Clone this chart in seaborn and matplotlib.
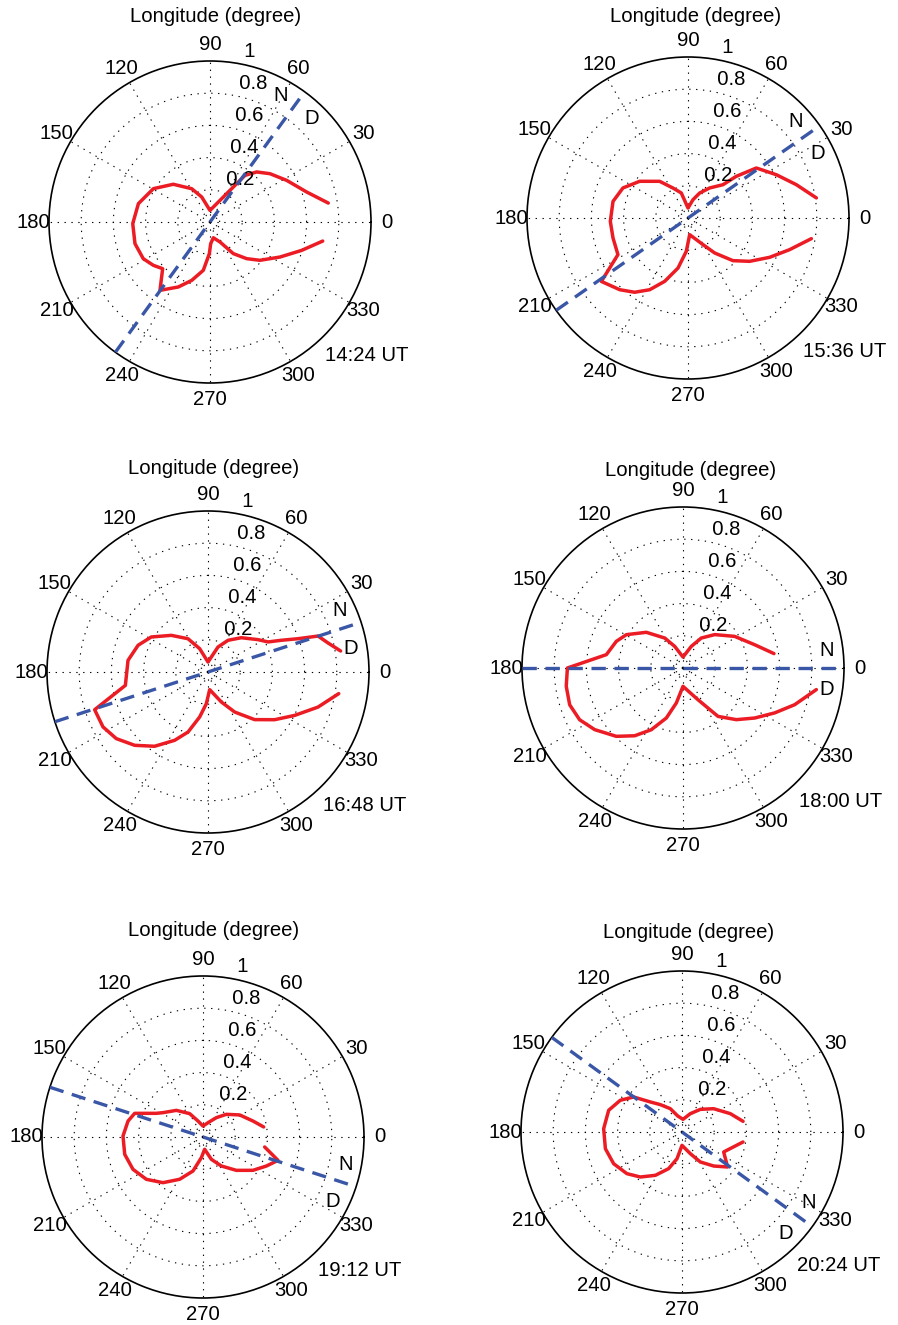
import numpy as np
import pandas as pd
import matplotlib
matplotlib.use("Agg")
import matplotlib.pyplot as plt
import seaborn as sns

sns.set_style("white")
plt.rcParams['font.family'] = ['Liberation Sans', 'DejaVu Sans']
plt.rcParams['text.color'] = 'black'

# ---------------- data (longitude in degrees, normalised value) ----------------
p1_theta = [9.1, 17.2, 28.5, 38.9, 47.0, 53.1, 57.7, 65.2, 90.0, 108.4, 118.8, 134.2, 149.5, 165.6,
            181.2, 196.1, 208.8, 217.4, 224.6, 233.8, 244.0, 252.6, 262.1, 268.8, 271.8, 282.0,
            296.6, 306.4, 315.0, 322.5, 333.4, 342.8, 350.4]
p1_r = [0.744, 0.629, 0.542, 0.478, 0.425, 0.362, 0.233, 0.148, 0.072, 0.164, 0.236, 0.327, 0.408, 0.459,
        0.480, 0.485, 0.473, 0.443, 0.413, 0.526, 0.449, 0.380, 0.303, 0.197, 0.135, 0.100,
        0.139, 0.244, 0.322, 0.391, 0.486, 0.596, 0.710]

p2_theta = [8.9, 17.1, 26.1, 36.2, 40.8, 43.6, 54.2, 65.0, 74.7, 90.0, 105.0, 116.6, 127.7, 142.8,
            155.2, 167.5, 182.5, 194.9, 207.6, 216.2, 226.4, 234.3, 241.9, 249.8, 258.7, 267.1,
            275.7, 299.4, 307.3, 316.5, 324.9, 334.3, 342.7, 350.5]
p2_r = [0.807, 0.704, 0.611, 0.526, 0.396, 0.300, 0.230, 0.171, 0.118, 0.062, 0.161, 0.208, 0.288, 0.377,
        0.445, 0.477, 0.483, 0.482, 0.491, 0.667, 0.615, 0.568, 0.505, 0.419, 0.317, 0.207,
        0.104, 0.190, 0.273, 0.385, 0.468, 0.563, 0.661, 0.777]

p3_theta = [9.0, 13.6, 18.1, 20.3, 23.4, 26.6, 32.9, 45.8, 57.7, 68.2, 90.0, 109.7, 121.0, 135.0,
            148.3, 159.1, 171.7, 189.2, 198.4, 207.6, 216.0, 225.0, 234.3, 244.0, 251.6, 259.5,
            267.0, 275.4, 294.0, 303.7, 314.4, 324.4, 333.4, 342.3, 350.6]
p3_r = [0.834, 0.767, 0.719, 0.596, 0.496, 0.417, 0.370, 0.297, 0.233, 0.167, 0.062, 0.154, 0.241, 0.322,
        0.414, 0.465, 0.502, 0.520, 0.742, 0.736, 0.704, 0.644, 0.568, 0.472, 0.393, 0.284,
        0.197, 0.110, 0.204, 0.299, 0.414, 0.509, 0.602, 0.717, 0.823]

p4_theta = [9.0, 18.0, 31.5, 46.5, 58.6, 69.0, 90.0, 111.0, 121.4, 135.8, 149.5, 158.2, 170.1, 180.0,
            188.9, 198.0, 206.6, 214.9, 225.7, 234.5, 242.8, 251.6, 259.2, 270.0, 295.3, 305.9,
            315.9, 325.1, 333.9, 341.8, 350.8]
p4_r = [0.572, 0.468, 0.376, 0.286, 0.218, 0.144, 0.068, 0.144, 0.218, 0.318, 0.408, 0.446, 0.483, 0.718,
        0.734, 0.740, 0.718, 0.669, 0.593, 0.517, 0.431, 0.327, 0.221, 0.114, 0.218, 0.371,
        0.461, 0.543, 0.634, 0.730, 0.839]

p5_theta = [9.4, 17.7, 31.0, 44.2, 55.4, 70.8, 90.0, 107.4, 119.7, 135.0, 148.7, 153.1, 160.9, 168.0,
            179.3, 192.5, 204.8, 216.8, 228.8, 241.1, 253.6, 265.4, 277.7, 290.5, 302.3, 315.0,
            326.3, 335.4, 342.7, 350.8]
p5_r = [0.382, 0.326, 0.266, 0.202, 0.146, 0.094, 0.068, 0.104, 0.167, 0.234, 0.291, 0.325, 0.449, 0.476,
        0.497, 0.498, 0.479, 0.439, 0.377, 0.300, 0.220, 0.129, 0.077, 0.148, 0.213, 0.293,
        0.373, 0.433, 0.488, 0.388]

p6_theta = [9.9, 20.8, 36.4, 51.0, 65.6, 85.5, 105.0, 116.6, 128.4, 136.5, 144.1, 152.8, 163.5, 177.6,
            192.3, 204.9, 217.1, 227.2, 238.4, 250.0, 259.4, 270.0, 291.0, 301.4, 313.0, 322.5,
            334.4, 350.7]
p6_r = [0.385, 0.321, 0.244, 0.181, 0.125, 0.079, 0.103, 0.162, 0.217, 0.271, 0.371, 0.431, 0.475, 0.487,
        0.487, 0.468, 0.429, 0.381, 0.316, 0.242, 0.169, 0.083, 0.144, 0.218, 0.289, 0.357,
        0.287, 0.384]

terminator_deg = [54, 35, 18, 0, 342, 324]
times = ["14:24 UT", "15:36 UT", "16:48 UT", "18:00 UT", "19:12 UT", "20:24 UT"]
angle_ticks = list(range(0, 360, 30))
r_ticks = [0.2, 0.4, 0.6, 0.8, 1.0]
r_tick_labels = ["0.2", "0.4", "0.6", "0.8", "1"]
title_text = "Longitude (degree)"

curves = [(p1_theta, p1_r), (p2_theta, p2_r), (p3_theta, p3_r),
          (p4_theta, p4_r), (p5_theta, p5_r), (p6_theta, p6_r)]

# ---------------- layout ----------------
W, H = 898, 1325
R = 161
centers = [(210, 222), (688, 218), (208, 672), (683, 668), (203, 1137), (682, 1132)]
title_pos = [(216, 17), (696, 17), (214, 468), (691, 471), (214, 931), (689, 933)]
RED = '#ec1c24'
BLUE = '#3a56a6'
DOT = (0, (1.2, 5))
FS = 14.6

fig = plt.figure(figsize=(W / 100, H / 100), dpi=100)
fig.patch.set_facecolor('white')

for i in range(6):
    cx, cy = centers[i]
    ax = fig.add_axes([(cx - R) / W, (H - cy - R) / H, 2 * R / W, 2 * R / H], projection='polar')
    ax.set_facecolor('white')

    # dotted grid (rings and spokes)
    tt = np.linspace(0, 2 * np.pi, 361)
    for rr in [0.06, 0.2, 0.4, 0.6, 0.8]:
        ax.plot(tt, np.full_like(tt, rr), color='black', lw=0.8, linestyle=DOT, zorder=1)
    for a in angle_ticks:
        ax.plot([np.deg2rad(a)] * 2, [0, 1], color='black', lw=0.8, linestyle=DOT, zorder=1)

    # red curve
    th, rv = curves[i]
    df = pd.DataFrame({'theta': np.deg2rad(th), 'r': rv})
    sns.lineplot(data=df, x='theta', y='r', sort=False, estimator=None, ax=ax,
                 color=RED, lw=2.5, zorder=3)

    # terminator line
    t = np.deg2rad(terminator_deg[i])
    dft = pd.DataFrame({'theta': [t + np.pi, t + np.pi, t, t], 'r': [1, 0, 0, 1]})
    sns.lineplot(data=dft, x='theta', y='r', sort=False, estimator=None, ax=ax,
                 color=BLUE, lw=2.4, zorder=4)
    ax.lines[-1].set_dashes([4.3, 2.6])

    ax.set_xlabel('')
    ax.set_ylabel('')
    ax.set_ylim(0, 1)
    ax.set_xticks([])
    ax.set_yticks([])
    ax.grid(False)
    ax.spines['polar'].set_linewidth(1.2)
    ax.spines['polar'].set_color('black')

    # angle labels
    for a in angle_ticks:
        ax.text(np.deg2rad(a), 1.1, str(a), ha='center', va='center', fontsize=FS)
    # radial labels
    for v, lab in zip(r_ticks, r_tick_labels):
        ax.text(np.deg2rad(82), v + 0.01, '  ' + lab, ha='left', va='bottom', fontsize=FS)

    # N / D labels
    ax.text(t + np.deg2rad(7), 0.9, 'N', ha='center', va='center', fontsize=FS)
    ax.text(t - np.deg2rad(8.5), 0.9, 'D', ha='center', va='center', fontsize=FS)

    # time label
    ax.text(np.deg2rad(-40.3), 1.28, times[i], ha='center', va='center', fontsize=FS)

    # title (figure pixel position)
    tx, ty = title_pos[i]
    fig.text(tx / W, 1 - ty / H, title_text, ha='center', va='center', fontsize=FS)

fig.savefig('out.png', dpi=100, facecolor='white')
